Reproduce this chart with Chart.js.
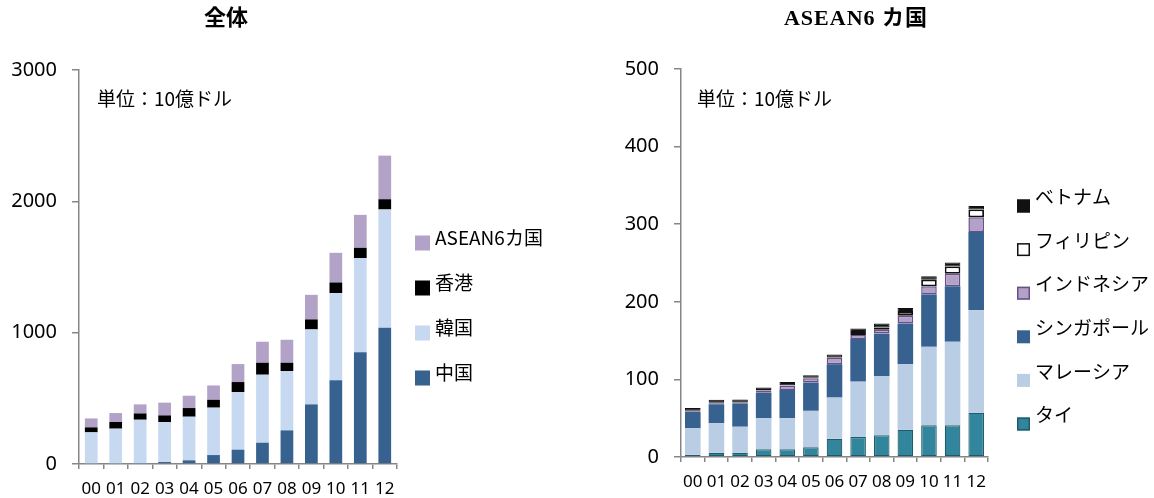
<!DOCTYPE html>
<html>
<head>
<meta charset="utf-8">
<script src="https://cdn.jsdelivr.net/npm/chart.js@4/dist/chart.umd.min.js"></script>
<style>
  html, body { margin: 0; padding: 0; background: #ffffff; }
  body { width: 1154px; height: 498px; position: relative; overflow: hidden; }
  .wrap { position: absolute; top: 0; width: 577px; height: 498px; }
  #w1 { left: 0; }
  #w2 { left: 577px; }
</style>
</head>
<body>
<div class="wrap" id="w1"><canvas id="c1" width="577" height="498"></canvas></div>
<div class="wrap" id="w2"><canvas id="c2" width="577" height="498"></canvas></div>
<script>
// ---- Data ----
const years = ['00','01','02','03','04','05','06','07','08','09','10','11','12'];

// 全体 (10億ドル)
const china    = [0, 0, 2, 15, 28, 68, 109, 162, 256, 454, 637, 850, 1037];
const korea    = [241, 269, 335, 305, 332, 361, 439, 518, 452, 571, 664, 717, 901];
const hongkong = [38, 51, 48, 50, 66, 60, 76, 91, 63, 76, 81, 79, 78];
const asean6   = [68, 68, 69, 97, 94, 109, 137, 160, 175, 187, 226, 251, 332];

// ASEAN6 カ国 (10億ドル)
const thai        = [3, 5.5, 5.5, 10, 10, 12.5, 23.6, 25.8, 28, 35, 41, 41, 57];
const malaysia    = [34, 38, 33.5, 40, 40, 47, 53, 71.3, 76, 84.5, 101, 107.5, 132];
const singapore   = [21, 24.5, 29.7, 32.7, 36.5, 36.5, 43, 55, 55, 52.5, 67.5, 71.5, 101];
const indonesia   = [1, 1.3, 1, 3, 5.5, 5.5, 8, 5, 5, 10, 10.5, 16, 19];
const philippines = [0.5, 0.5, 0.5, 0.5, 0.5, 0.5, 0.5, 4, 3, 5, 8.5, 9.5, 10];
const vietnam     = [3.5, 4, 4, 3.5, 4, 3.5, 4, 4.5, 5, 5, 4.5, 5, 4.5];

const leftTicks  = [0, 1000, 2000, 3000];
const rightTicks = [0, 100, 200, 300, 400, 500];

const JP = "'Noto Sans CJK JP', 'Noto Sans', sans-serif";
const NUM = "'Noto Sans', 'Open Sans', sans-serif";
const AXIS = '#868686';

function decorPlugin(opts) {
  return {
    id: 'decor',
    afterDraw(chart) {
      const ctx = chart.ctx;
      ctx.save();
      // title
      ctx.fillStyle = '#000';
      ctx.textAlign = 'center';
      ctx.textBaseline = 'middle';
      ctx.font = "bold 22px 'Liberation Serif', 'Noto Sans CJK JP', serif";
      if (ctx.letterSpacing !== undefined) ctx.letterSpacing = opts.titleSpacing || '0px';
      ctx.fillText(opts.title, opts.titleX, opts.titleY);
      if (ctx.letterSpacing !== undefined) ctx.letterSpacing = '0px';
      // unit
      ctx.textAlign = 'left';
      ctx.font = "19px " + JP;
      ctx.fillText('単位：10億ドル', opts.unitX, opts.unitY);
      // legend (reverse order)
      const ds = chart.data.datasets;
      ctx.font = "19px " + JP;
      for (let i = ds.length - 1, k = 0; i >= 0; i--, k++) {
        const d = ds[i];
        const cy = opts.legY + k * opts.legStep;
        const bx = opts.legBoxX, bs = opts.legBox;
        const by = cy + opts.legBoxDy - bs / 2;
        ctx.fillStyle = d.backgroundColor;
        ctx.fillRect(bx, by, bs, bs);
        if (d.borderWidth && d.borderColor) {
          ctx.strokeStyle = d.borderColor;
          ctx.lineWidth = 1.5;
          ctx.strokeRect(bx + 0.75, by + 0.75, bs - 1.5, bs - 1.5);
        }
        ctx.fillStyle = '#000';
        ctx.textBaseline = 'middle';
        ctx.fillText(d.label, opts.legTextX, cy);
      }
      ctx.restore();
    }
  };
}

function makeScales(max, step, yWidth, xHeight, tickVals) {
  return {
    x: {
      stacked: true,
      afterFit(s) { s.height = xHeight; },
      grid: { display: true, drawOnChartArea: false, drawTicks: true, tickLength: 5, color: AXIS, offset: true, lineWidth: 1.5 },
      border: { display: true, color: AXIS, width: 1.5 },
      ticks: { color: '#000', font: { family: NUM, size: 17 }, padding: 10, maxRotation: 0, autoSkip: false }
    },
    y: {
      stacked: true,
      min: 0, max: max,
      afterFit(s) { s.width = yWidth; },
      afterBuildTicks(s) { s.ticks = tickVals.map(v => ({ value: v })); },
      grid: { display: true, drawOnChartArea: false, drawTicks: true, tickLength: 7, color: AXIS, lineWidth: 1.5 },
      border: { display: true, color: AXIS, width: 1.5 },
      ticks: { color: '#000', font: { family: NUM, size: 20 }, padding: 15, stepSize: step,
               callback: v => String(v) }
    }
  };
}

// Left chart
new Chart(document.getElementById('c1'), {
  type: 'bar',
  data: {
    labels: years,
    datasets: [
      { label: '中国', data: china, backgroundColor: '#37618F' },
      { label: '韓国', data: korea, backgroundColor: '#C6D9F1' },
      { label: '香港', data: hongkong, backgroundColor: '#000000' },
      { label: 'ASEAN6カ国', data: asean6, backgroundColor: '#B3A2C7' }
    ]
  },
  options: {
    responsive: false,
    animation: false,
    devicePixelRatio: 1,
    layout: { padding: { top: 70, right: 180, bottom: 0, left: 0 } },
    datasets: { bar: { categoryPercentage: 1, barPercentage: 0.52, borderWidth: 0 } },
    plugins: { legend: { display: false }, title: { display: false }, tooltip: { enabled: false } },
    scales: makeScales(3000, 1000, 79, 34, leftTicks)
  },
  plugins: [decorPlugin({
    title: '全体', titleX: 226, titleY: 19,
    unitX: 97, unitY: 99,
    legY: 238, legStep: 45, legBoxX: 415, legBox: 15, legBoxDy: 5, legTextX: 435
  })]
});

// Right chart
new Chart(document.getElementById('c2'), {
  type: 'bar',
  data: {
    labels: years,
    datasets: [
      { label: 'タイ', data: thai, backgroundColor: '#31859C', borderColor: '#215B6A', borderWidth: 1.2, borderSkipped: false },
      { label: 'マレーシア', data: malaysia, backgroundColor: '#B9CDE5', borderWidth: 0 },
      { label: 'シンガポール', data: singapore, backgroundColor: '#37618F', borderWidth: 0 },
      { label: 'インドネシア', data: indonesia, backgroundColor: '#B3A2C7', borderColor: '#6A4E8A', borderWidth: 1.5, borderSkipped: false },
      { label: 'フィリピン', data: philippines, backgroundColor: '#FFFFFF', borderColor: '#111111', borderWidth: 1.8, borderSkipped: false },
      { label: 'ベトナム', data: vietnam, backgroundColor: '#111111', borderColor: '#111111', borderWidth: 1, borderSkipped: false }
    ]
  },
  options: {
    responsive: false,
    animation: false,
    devicePixelRatio: 1,
    layout: { padding: { top: 69, right: 166, bottom: 0, left: 0 } },
    datasets: { bar: { categoryPercentage: 1, barPercentage: 0.66 } },
    plugins: { legend: { display: false }, title: { display: false }, tooltip: { enabled: false } },
    scales: makeScales(500, 100, 104, 41, rightTicks)
  },
  plugins: [decorPlugin({
    title: 'ASEAN6 カ国', titleX: 279, titleY: 19, titleSpacing: '1px',
    unitX: 120, unitY: 99,
    legY: 197, legStep: 43.6, legBoxX: 440, legBox: 13, legBoxDy: 9, legTextX: 458
  })]
});
</script>
</body>
</html>
